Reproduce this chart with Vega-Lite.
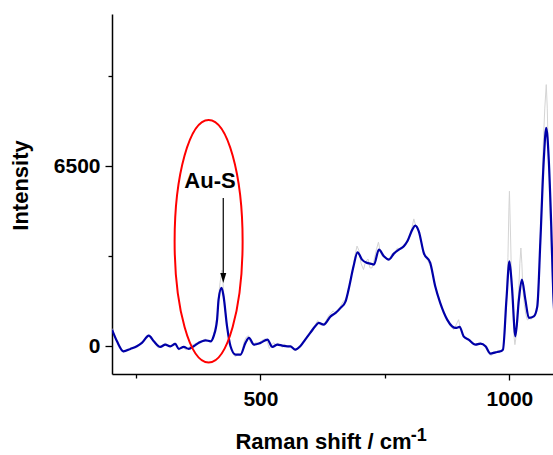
{
  "$schema": "https://vega.github.io/schema/vega-lite/v6.json",
  "width": 441,
  "height": 360,
  "autosize": {"type": "none"},
  "padding": {"left": 112, "top": 14, "right": 0, "bottom": 81},
  "background": "white",
  "config": {
    "view": {"stroke": null},
    "axis": {
      "domainColor": "black", "domainWidth": 1.5,
      "tickColor": "black", "tickWidth": 1.3,
      "grid": false,
      "labelFont": "Liberation Sans", "labelFontWeight": "bold", "labelFontSize": 21, "labelColor": "black",
      "titleFont": "Liberation Sans", "titleFontWeight": "bold", "titleFontSize": 22, "titleColor": "black"
    }
  },
  "datasets": {
    "smooth": [
      {"x":202,"y":603},{"x":212,"y":181},{"x":225,"y":-181},{"x":239,"y":-94},{"x":252,"y":0},{"x":262,"y":123},{"x":276,"y":386},{"x":286,"y":181},{"x":299,"y":-22},{"x":309,"y":61},{"x":319,"y":0},{"x":329,"y":87},{"x":336,"y":-94},{"x":346,"y":-22},{"x":356,"y":-94},{"x":366,"y":0},{"x":376,"y":123},{"x":390,"y":217},{"x":400,"y":181},{"x":406,"y":361},{"x":413,"y":964},{"x":416,"y":1686},{"x":422,"y":2109},{"x":426,"y":1806},{"x":433,"y":722},{"x":440,"y":0},{"x":450,"y":-300},{"x":460,"y":-300},{"x":470,"y":123},{"x":477,"y":303},{"x":487,"y":61},{"x":500,"y":123},{"x":514,"y":242},{"x":524,"y":-22},{"x":534,"y":61},{"x":544,"y":25},{"x":554,"y":0},{"x":560,"y":0},{"x":570,"y":-119},{"x":580,"y":0},{"x":590,"y":242},{"x":600,"y":484},{"x":610,"y":722},{"x":617,"y":845},{"x":627,"y":784},{"x":641,"y":1083},{"x":651,"y":1206},{"x":661,"y":1387},{"x":671,"y":1625},{"x":677,"y":2047},{"x":687,"y":2889},{"x":695,"y":3394},{"x":704,"y":3131},{"x":714,"y":3012},{"x":721,"y":2986},{"x":728,"y":2950},{"x":738,"y":3492},{"x":748,"y":3250},{"x":758,"y":3131},{"x":768,"y":3347},{"x":778,"y":3492},{"x":788,"y":3611},{"x":795,"y":3792},{"x":805,"y":4214},{"x":811,"y":4359},{"x":818,"y":4153},{"x":828,"y":3373},{"x":841,"y":3012},{"x":851,"y":2167},{"x":861,"y":1567},{"x":875,"y":964},{"x":885,"y":722},{"x":892,"y":664},{"x":900,"y":701},{"x":908,"y":361},{"x":918,"y":242},{"x":932,"y":61},{"x":942,"y":97},{"x":952,"y":0},{"x":962,"y":-264},{"x":972,"y":-217},{"x":982,"y":-181},{"x":987,"y":-119},{"x":994,"y":1686},{"x":1000,"y":3069},{"x":1005,"y":2167},{"x":1012,"y":361},{"x":1019,"y":1686},{"x":1025,"y":2409},{"x":1032,"y":1686},{"x":1039,"y":1026},{"x":1049,"y":1083},{"x":1056,"y":1444},{"x":1062,"y":3734},{"x":1069,"y":6742},{"x":1074,"y":7886},{"x":1079,"y":6742},{"x":1084,"y":4333},{"x":1088,"y":1928},{"x":1092,"y":700}
    ],
    "raw": [
      {"x":202,"y":640},{"x":207,"y":420},{"x":212,"y":150},{"x":218,"y":0},{"x":225,"y":-220},{"x":232,"y":-120},{"x":239,"y":-60},{"x":245,"y":-30},{"x":252,"y":20},{"x":258,"y":80},{"x":262,"y":140},{"x":268,"y":260},{"x":275,"y":420},{"x":280,"y":300},{"x":285,"y":160},{"x":290,"y":50},{"x":295,"y":-60},{"x":299,"y":0},{"x":304,"y":40},{"x":309,"y":110},{"x":314,"y":40},{"x":319,"y":-30},{"x":324,"y":60},{"x":329,"y":130},{"x":333,"y":0},{"x":336,"y":-140},{"x":340,"y":-20},{"x":346,"y":-60},{"x":351,"y":-130},{"x":356,"y":-40},{"x":361,"y":30},{"x":366,"y":60},{"x":371,"y":110},{"x":376,"y":160},{"x":382,"y":190},{"x":389,"y":260},{"x":394,"y":210},{"x":399,"y":170},{"x":403,"y":230},{"x":406,"y":420},{"x":410,"y":780},{"x":413,"y":1100},{"x":416,"y":1800},{"x":419,"y":2300},{"x":423,"y":2750},{"x":426,"y":2000},{"x":430,"y":1200},{"x":433,"y":700},{"x":437,"y":200},{"x":440,"y":-50},{"x":445,"y":-280},{"x":450,"y":-380},{"x":455,"y":-260},{"x":460,"y":-350},{"x":464,"y":-100},{"x":468,"y":200},{"x":472,"y":340},{"x":476,"y":380},{"x":480,"y":150},{"x":484,"y":60},{"x":488,"y":100},{"x":492,"y":150},{"x":497,"y":60},{"x":500,"y":170},{"x":505,"y":230},{"x":510,"y":270},{"x":514,"y":150},{"x":518,"y":-80},{"x":522,"y":50},{"x":527,"y":130},{"x":531,"y":20},{"x":535,"y":120},{"x":539,"y":60},{"x":544,"y":-40},{"x":548,"y":80},{"x":553,"y":20},{"x":557,"y":-30},{"x":561,"y":30},{"x":566,"y":-60},{"x":570,"y":-170},{"x":574,"y":-60},{"x":579,"y":10},{"x":584,"y":80},{"x":589,"y":260},{"x":594,"y":300},{"x":599,"y":450},{"x":605,"y":560},{"x":610,"y":780},{"x":615,"y":930},{"x":618,"y":820},{"x":622,"y":760},{"x":627,"y":790},{"x":632,"y":930},{"x":637,"y":1100},{"x":641,"y":1180},{"x":646,"y":1280},{"x":651,"y":1180},{"x":656,"y":1340},{"x":661,"y":1450},{"x":666,"y":1620},{"x":671,"y":1700},{"x":676,"y":1950},{"x":681,"y":2400},{"x":686,"y":2850},{"x":690,"y":3300},{"x":694,"y":3620},{"x":698,"y":3450},{"x":702,"y":3000},{"x":707,"y":2770},{"x":711,"y":3050},{"x":716,"y":3150},{"x":720,"y":2830},{"x":724,"y":2830},{"x":728,"y":3100},{"x":733,"y":3500},{"x":737,"y":3760},{"x":741,"y":3400},{"x":745,"y":3250},{"x":750,"y":3200},{"x":755,"y":3130},{"x":760,"y":3200},{"x":765,"y":3350},{"x":770,"y":3400},{"x":775,"y":3550},{"x":780,"y":3480},{"x":785,"y":3600},{"x":790,"y":3700},{"x":795,"y":3750},{"x":800,"y":3950},{"x":804,"y":4250},{"x":808,"y":4600},{"x":812,"y":4350},{"x":816,"y":4300},{"x":820,"y":4000},{"x":824,"y":3700},{"x":828,"y":3350},{"x":832,"y":3200},{"x":836,"y":3100},{"x":840,"y":2950},{"x":844,"y":2750},{"x":848,"y":2400},{"x":852,"y":2100},{"x":856,"y":1900},{"x":860,"y":1650},{"x":865,"y":1380},{"x":870,"y":1150},{"x":875,"y":950},{"x":879,"y":800},{"x":884,"y":680},{"x":888,"y":600},{"x":891,"y":700},{"x":895,"y":850},{"x":898,"y":960},{"x":901,"y":700},{"x":905,"y":480},{"x":909,"y":330},{"x":913,"y":300},{"x":918,"y":250},{"x":922,"y":140},{"x":927,"y":120},{"x":931,"y":50},{"x":935,"y":90},{"x":940,"y":140},{"x":944,"y":90},{"x":948,"y":40},{"x":952,"y":-50},{"x":956,"y":-180},{"x":960,"y":-300},{"x":964,"y":-330},{"x":968,"y":-200},{"x":972,"y":-230},{"x":976,"y":-150},{"x":981,"y":-200},{"x":985,"y":-170},{"x":988,"y":-60},{"x":991,"y":600},{"x":994,"y":1600},{"x":997,"y":3200},{"x":999,"y":5000},{"x":1000,"y":5600},{"x":1002,"y":4200},{"x":1004,"y":2600},{"x":1007,"y":1500},{"x":1009,"y":400},{"x":1011,"y":60},{"x":1013,"y":300},{"x":1016,"y":1200},{"x":1019,"y":2200},{"x":1021,"y":3000},{"x":1023,"y":3550},{"x":1025,"y":3000},{"x":1027,"y":2100},{"x":1030,"y":1500},{"x":1033,"y":1150},{"x":1036,"y":950},{"x":1040,"y":1000},{"x":1044,"y":980},{"x":1048,"y":1080},{"x":1052,"y":1200},{"x":1055,"y":1450},{"x":1059,"y":2400},{"x":1062,"y":3900},{"x":1065,"y":5500},{"x":1068,"y":7300},{"x":1071,"y":8600},{"x":1074,"y":9450},{"x":1076,"y":8600},{"x":1078,"y":7000},{"x":1081,"y":5200},{"x":1084,"y":3500},{"x":1087,"y":2000},{"x":1090,"y":1000}
    ]
  },
  "layer": [
    {
      "data": {"name": "raw"},
      "mark": {"type": "line", "color": "#d4d4d4", "strokeWidth": 1, "clip": true},
      "encoding": {
        "x": {"field": "x", "type": "quantitative",
              "scale": {"domain": [202, 1087.5], "nice": false, "zero": false},
              "axis": {"values": [250, 500, 750, 1000], "title": "Raman shift / cm",
                       "labelExpr": "datum.value % 500 == 0 ? format(datum.value, 'd') : ''",
                       "tickSize": {"condition": {"test": "datum.value % 500 == 0", "value": 6}, "value": 4},
                       "labelPadding": 8, "titlePadding": 22, "titleX": 211}},
        "y": {"field": "y", "type": "quantitative",
              "scale": {"domain": [-1000, 12000], "nice": false, "zero": false},
              "axis": {"values": [0, 3250, 6500, 9750], "title": "Intensity",
                       "labelExpr": "datum.value % 6500 == 0 ? format(datum.value, 'd') : ''",
                       "tickSize": {"condition": {"test": "datum.value % 6500 == 0", "value": 7}, "value": 4},
                       "labelPadding": 5, "titlePadding": 21, "titleY": 171}}
      }
    },
    {
      "data": {"name": "smooth"},
      "mark": {"type": "line", "color": "#0000a8", "strokeWidth": 2.2, "interpolate": "monotone", "clip": true},
      "encoding": {
        "x": {"field": "x", "type": "quantitative"},
        "y": {"field": "y", "type": "quantitative"}
      }
    },
    {
      "data": {"values": [{"x": 396, "y": 3792}]},
      "mark": {"type": "point", "shape": "M-0.2803,0 A0.2803,1 0 1,0 0.2803,0 A0.2803,1 0 1,0 -0.2803,0 Z", "size": 58855, "filled": false, "stroke": "#ff0000", "strokeWidth": 2, "opacity": 1},
      "encoding": {
        "x": {"field": "x", "type": "quantitative"},
        "y": {"field": "y", "type": "quantitative"}
      }
    },
    {
      "data": {"values": [{"x": 425.4, "y": 5356, "y2": 2500}]},
      "mark": {"type": "rule", "color": "black", "strokeWidth": 1.2},
      "encoding": {
        "x": {"field": "x", "type": "quantitative"},
        "y": {"field": "y", "type": "quantitative"},
        "y2": {"field": "y2"}
      }
    },
    {
      "data": {"values": [{"x": 425.4, "y": 2286}]},
      "mark": {"type": "point", "shape": "M-0.3,-1 L0.3,-1 L0,0 Z", "size": 400, "filled": true, "color": "black", "opacity": 1},
      "encoding": {
        "x": {"field": "x", "type": "quantitative"},
        "y": {"field": "y", "type": "quantitative"}
      }
    },
    {
      "data": {"values": [{"x": 398.7, "y": 5717, "t": "Au-S"}, {"x": 818, "y": -3420, "t": "-1"}]},
      "mark": {"type": "text", "font": "Liberation Sans", "fontWeight": "bold", "baseline": "alphabetic", "color": "black"},
      "encoding": {
        "x": {"field": "x", "type": "quantitative"},
        "y": {"field": "y", "type": "quantitative"},
        "text": {"field": "t"},
        "align": {"condition": {"test": "datum.t == '-1'", "value": "left"}, "value": "center"},
        "size": {"condition": {"test": "datum.t == '-1'", "value": 18}, "value": 22}
      }
    }
  ]
}
